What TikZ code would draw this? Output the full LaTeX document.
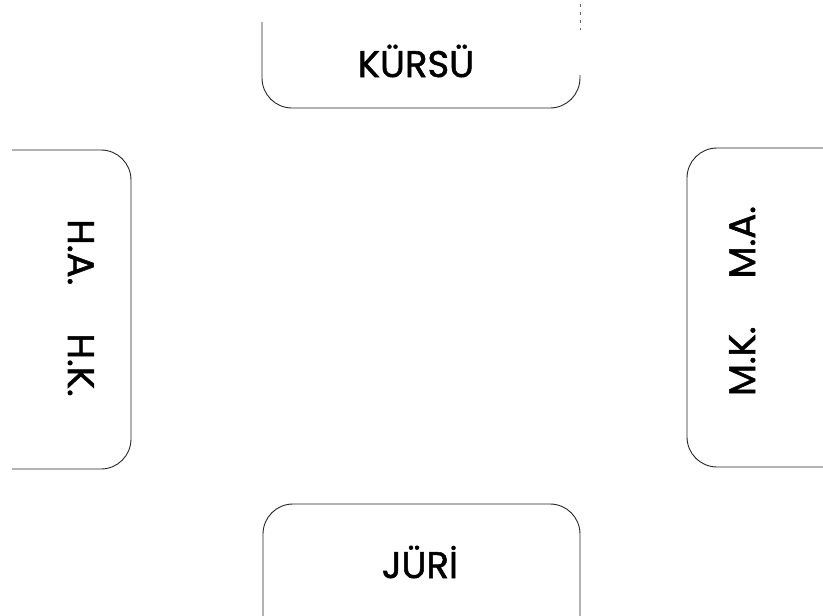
\documentclass[tikz,border=0pt]{standalone}
\usepackage{fontspec}
\setmainfont{Poppins}
\newfontfamily\lblfont{Poppins}[FakeBold=1.4]
\begin{document}
\begin{tikzpicture}[x=1pt,y=-1pt,
  boxline/.style={line width=0.9pt, draw=black!85, rounded corners=30pt},
  faint/.style={line width=0.7pt, draw=black!60, dash pattern=on 3pt off 5pt},
  lbl/.style={font=\lblfont\fontsize{37}{40}\selectfont, anchor=base, inner sep=0pt}]
\useasboundingbox (0,0) rectangle (823,616);
% top box
\draw[boxline] (262,22) -- (262,108) -- (580,108) -- (580,75);
\draw[faint] (580,4) -- (580,30);
% left box
\draw[boxline] (12,150) -- (131,150) -- (131,469) -- (12,469);
% right box
\draw[boxline] (823,148) -- (687,148) -- (687,467) -- (823,467);
% bottom box
\draw[boxline] (263,616) -- (263,504) -- (580,504) -- (580,616);
% labels
\node[lbl] (kursu) at (416,77) {KÜRSÜ};
\node[lbl] (juri) at (420,578) {JÜRİ};
\node[lbl, rotate=-90] (hahk) at (68,308) {H.A.\hspace{1.3em}H.K.};
\node[lbl, rotate=90] (mkma) at (755,301) {M.K.\hspace{1.3em}M.A.};
\end{tikzpicture}
\end{document}
